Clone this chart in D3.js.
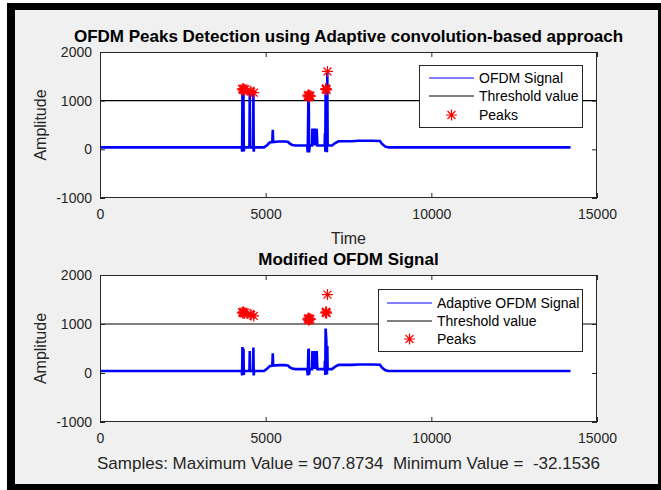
<!DOCTYPE html>
<html><head><meta charset="utf-8">
<script src="https://cdn.jsdelivr.net/npm/d3@7"></script>
<style>
body{margin:0;background:#fff;}
svg{display:block;font-family:"Liberation Sans",Arial,Helvetica,sans-serif;}
</style>
</head><body><svg id="c" width="661" height="490"></svg>
<script>
// ---------- data ----------
const xTicks = [0, 5000, 10000, 15000];
const yTicks = [-1000, 0, 1000, 2000];
const thresholdValue = 1000;

// OFDM signal (top panel)
const sigX = [0,4280,4290,4300,4310,4330,4340,4350,4510,4520,4530,4620,4630,4640,4650,4950,5050,5120,5200,5215,5225,5400,5600,5680,5720,5800,5900,6250,6270,6290,6300,6310,6330,6400,6410,6420,6430,6440,6450,6460,6470,6480,6490,6500,6510,6520,6540,6560,6780,6790,6800,6810,6830,6850,6860,6870,7000,7100,7200,7600,7800,8200,8450,8500,8600,8700,14200];
const sigY = [40,40,-50,1250,40,1220,-40,40,40,1190,40,40,1160,-50,40,40,90,140,150,400,150,160,160,150,120,90,80,80,-60,1100,1130,-60,80,80,430,80,420,80,430,80,420,80,430,80,420,80,420,80,80,330,-50,1250,1300,-60,1610,80,80,130,165,165,175,175,170,120,60,40,40];

// Adaptive (modified) OFDM signal (bottom panel)
const modX = [0,4280,4290,4300,4310,4330,4340,4350,4510,4520,4530,4620,4630,4640,4650,4950,5050,5120,5200,5215,5225,5400,5600,5680,5720,5800,5900,6250,6270,6290,6300,6310,6330,6400,6410,6420,6430,6440,6450,6460,6470,6480,6490,6500,6510,6520,6540,6560,6780,6790,6800,6810,6830,6850,6860,6870,7000,7100,7200,7600,7800,8200,8450,8500,8600,8700,14200];
const modY = [40,40,-50,530,40,500,-40,40,40,450,40,40,520,-50,40,40,90,140,150,400,150,160,160,150,120,90,80,80,-50,490,480,-40,80,80,450,80,440,80,450,80,440,80,450,80,440,80,450,80,80,250,-40,908,680,-32,550,80,80,130,165,165,175,175,170,120,60,40,40];

// detected peaks
const peakX = [4290,4310,4330,4350,4370,4530,4560,4640,6270,6290,6310,6330,6350,6300,6810,6825,6840,6820,6865];
const peakY = [1240,1220,1250,1215,1230,1200,1185,1165,1100,1120,1090,1110,1095,1075,1230,1250,1220,1240,1600];

const titles = ["OFDM Peaks Detection using Adaptive convolution-based approach", "Modified OFDM Signal"];
const legendNames = [["OFDM Signal","Threshold value","Peaks"],["Adaptive OFDM Signal","Threshold value","Peaks"]];
const xLabelTop = "Time";
const yLabel = "Amplitude";
const footer = "Samples: Maximum Value = 907.8734  Minimum Value =  -32.1536";

// ---------- drawing ----------
const svg = d3.select("#c");
svg.append("rect").attr("x",7).attr("y",3).attr("width",654).attr("height",487).attr("fill","#000");
svg.append("rect").attr("x",15).attr("y",10).attr("width",643).attr("height",474).attr("fill","#f0f0f0");

const left = 100, right = 597;
const x = d3.scaleLinear().domain([0,15000]).range([left,right]);

const panels = [
  {top:52, bottom:198, X:sigX, Y:sigY, legend:{x:419,y:65,w:163,h:62,lx0:429,lx1:474,tx:479,rows:[78,96,115]}},
  {top:275, bottom:422, X:modX, Y:modY, legend:{x:378,y:289,w:204,h:62,lx0:387,lx1:432,tx:437,rows:[303,321,339]}}
];

function asterisk(r){
  const d = r*0.72;
  return `M${-r},0H${r}M0,${-r}V${r}M${-d},${-d}L${d},${d}M${-d},${d}L${d},${-d}`;
}

const axisColor = "#262626";
const fmt = d => String(d);
panels.forEach((p,i)=>{
  const y = d3.scaleLinear().domain([-1000,2000]).range([p.bottom,p.top]);
  const g = svg.append("g");
  g.append("rect").attr("x",left).attr("y",p.top).attr("width",right-left).attr("height",p.bottom-p.top).attr("fill","#fff");

  // threshold
  g.append("line").attr("x1",x(0)).attr("x2",x(15000)).attr("y1",y(thresholdValue)).attr("y2",y(thresholdValue))
    .attr("stroke","#000").attr("stroke-width",1.2);

  // signal
  const line = d3.line().x(d=>x(d[0])).y(d=>y(d[1]));
  const pts = p.X.map((v,k)=>[v,p.Y[k]]);
  g.append("path").attr("d",line(pts)).attr("fill","none").attr("stroke","#0000ff").attr("stroke-width",2.6).attr("stroke-linejoin","miter").attr("stroke-miterlimit",1.5);

  // peaks
  g.selectAll(".pk").data(peakX.map((v,k)=>[v,peakY[k]])).join("path")
    .attr("transform",d=>`translate(${x(d[0])},${y(d[1])})`)
    .attr("d",asterisk(5.5)).attr("stroke","#ff0000").attr("stroke-width",1.2).attr("fill","none");

  // axes
  const fs = "14px";
  const ax = g.append("g").attr("transform",`translate(0,${p.bottom})`)
    .call(d3.axisBottom(x).tickValues(xTicks).tickSizeInner(-5).tickSizeOuter(0).tickPadding(11).tickFormat(fmt));
  const axT = g.append("g").attr("transform",`translate(0,${p.top})`)
    .call(d3.axisTop(x).tickValues(xTicks).tickSizeInner(-5).tickSizeOuter(0).tickFormat(""));
  const ay = g.append("g").attr("transform",`translate(${left},0)`)
    .call(d3.axisLeft(y).tickValues(yTicks).tickSizeInner(-5).tickSizeOuter(0).tickPadding(8).tickFormat(fmt));
  const ayR = g.append("g").attr("transform",`translate(${right},0)`)
    .call(d3.axisRight(y).tickValues(yTicks).tickSizeInner(-5).tickSizeOuter(0).tickFormat(""));
  [ax,axT,ay,ayR].forEach(a=>{
    a.select(".domain").remove();
    a.selectAll("line").attr("stroke",axisColor);
    a.selectAll("text").attr("fill","#262626").style("font-size",fs).style("font-family","Liberation Sans, Arial, sans-serif");
  });
  g.append("rect").attr("x",left+0.5).attr("y",p.top+0.5).attr("width",right-left-1).attr("height",p.bottom-p.top-1)
    .attr("fill","none").attr("stroke",axisColor).attr("stroke-width",1);

  // legend
  const L = p.legend;
  const lg = g.append("g");
  lg.append("rect").attr("x",L.x+0.5).attr("y",L.y+0.5).attr("width",L.w).attr("height",L.h).attr("fill","#fff").attr("stroke","#262626");
  lg.append("line").attr("x1",L.lx0).attr("x2",L.lx1).attr("y1",L.rows[0]).attr("y2",L.rows[0]).attr("stroke","#0000ff").attr("stroke-width",1.2);
  lg.append("line").attr("x1",L.lx0).attr("x2",L.lx1).attr("y1",L.rows[1]).attr("y2",L.rows[1]).attr("stroke","#000").attr("stroke-width",1.2);
  lg.append("path").attr("transform",`translate(${(L.lx0+L.lx1)/2},${L.rows[2]})`).attr("d",asterisk(5.5)).attr("stroke","#ff0000").attr("stroke-width",1.2);
  legendNames[i].forEach((t,k)=>{
    lg.append("text").attr("x",L.tx).attr("y",L.rows[k]).attr("dy","0.35em").text(t)
      .style("font-size","14px").attr("fill","#000");
  });

  // title
  svg.append("text").attr("x",(left+right)/2).attr("y",p.top-10).attr("text-anchor","middle")
    .style("font-size","17px").style("font-weight","bold").attr("fill","#000").text(titles[i]);
  // y label
  svg.append("text").attr("transform",`translate(40,${(p.top+p.bottom)/2}) rotate(-90)`).attr("text-anchor","middle")
    .attr("dy","0.35em").style("font-size","16px").attr("fill","#262626").text(yLabel);
});

svg.append("text").attr("x",(left+right)/2).attr("y",238).attr("dy","0.35em").attr("text-anchor","middle")
  .style("font-size","16px").attr("fill","#262626").text(xLabelTop);
svg.append("text").attr("x",(left+right)/2).attr("y",463).attr("dy","0.35em").attr("text-anchor","middle")
  .style("font-size","17px").style("white-space","pre").attr("fill","#262626").text(footer);
</script>
</body></html>
